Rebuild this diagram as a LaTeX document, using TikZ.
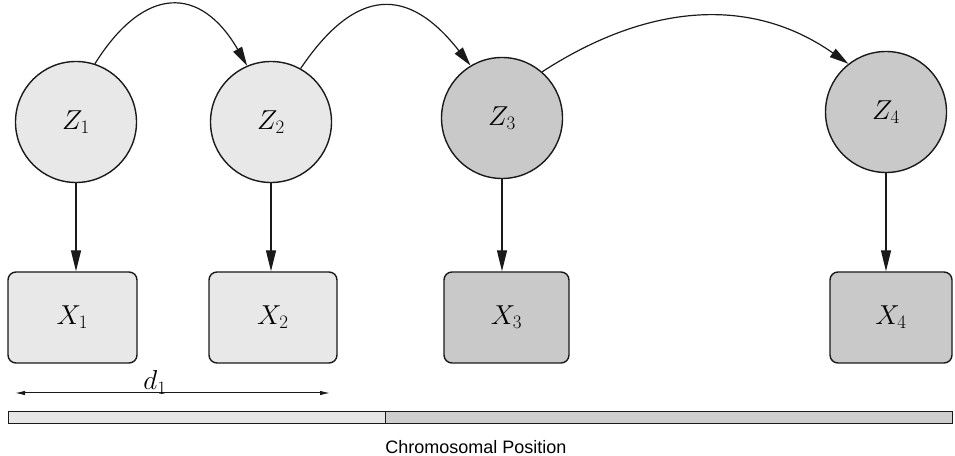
\documentclass[tikz,border=0pt]{standalone}
\usepackage{fontspec}
\newfontfamily\labelsans{Liberation Sans}
\usetikzlibrary{arrows.meta}
\definecolor{lightfill}{HTML}{E8E8E8}
\definecolor{darkfill}{HTML}{C9C9C9}
\definecolor{barlight}{HTML}{E6E6E6}
\definecolor{bardark}{HTML}{CDCDCD}
\definecolor{edgecol}{HTML}{1A1A1A}
\newcommand{\biglabel}[1]{\scalebox{1.1}{$#1$}}
\begin{document}
\begin{tikzpicture}[x=1pt,y=1pt,
  latent/.style={circle, draw=edgecol, line width=1.4pt, minimum size=121pt, inner sep=0pt, font=\fontsize{24}{28}\selectfont},
  observed/.style={rectangle, rounded corners=8pt, draw=edgecol, line width=1.4pt, minimum height=91pt, inner sep=0pt, font=\fontsize{24}{28}\selectfont},
  edge/.style={draw=edgecol, line width=1.2pt, -{Triangle[length=21pt,width=10pt]}},
  curveedge/.style={draw=edgecol, line width=1.2pt, -{Triangle[length=19pt,width=10pt]}},
  distline/.style={draw=edgecol, line width=1pt, {Latex[length=10pt,width=4.5pt]}-{Latex[length=10pt,width=4.5pt]}},
]
\useasboundingbox (0,0) rectangle (955,455);
% latent states
\node[latent, fill=lightfill] (Z1) at (76,333) {\biglabel{Z_1}};
\node[latent, fill=lightfill] (Z2) at (271,333) {\biglabel{Z_2}};
\node[latent, fill=darkfill] (Z3) at (502,337) {\biglabel{Z_3}};
\node[latent, fill=darkfill] (Z4) at (886,343) {\biglabel{Z_4}};
% observations
\node[observed, fill=lightfill, minimum width=129pt] (X1) at (72.5,137.5) {\biglabel{X_1}};
\node[observed, fill=lightfill, minimum width=128pt] (X2) at (273,137.5) {\biglabel{X_2}};
\node[observed, fill=darkfill, minimum width=125pt] (X3) at (506.5,137.5) {\biglabel{X_3}};
\node[observed, fill=darkfill, minimum width=122pt] (X4) at (891,137.5) {\biglabel{X_4}};
% emissions
\draw[edge] (Z1.south) -- (Z1.south |- X1.north);
\draw[edge] (Z2.south) -- (Z2.south |- X2.north);
\draw[edge] (Z3.south) -- (Z3.south |- X3.north);
\draw[edge] (Z4.south) -- (Z4.south |- X4.north);
% transitions
\draw[curveedge] (Z1.72) .. controls +(58:93) and +(120:93) .. (Z2.113);
\draw[curveedge] (Z2.61) .. controls +(56:100) and +(128:100) .. (Z3.121);
\draw[curveedge] (Z3.49) .. controls +(33:122) and +(145:122) .. (Z4.128);
% distance
\coordinate (dL) at (15,62);
\coordinate (dR) at (330,62);
\draw[distline] (dL) -- (dR);
\node[anchor=base, inner sep=0pt, font=\fontsize{24}{28}\selectfont] (d1) at (155,65) {\biglabel{d_1}};
% chromosome bar
\draw[draw=edgecol, line width=1pt, fill=barlight] (8,32) rectangle (385,44);
\draw[draw=edgecol, line width=1pt, fill=bardark] (385,32) rectangle (952,44);
\node[anchor=base, inner sep=0pt, font=\labelsans\fontsize{18}{21}\selectfont] (pos) at (476,2) {Chromosomal Position};
\end{tikzpicture}
\end{document}
